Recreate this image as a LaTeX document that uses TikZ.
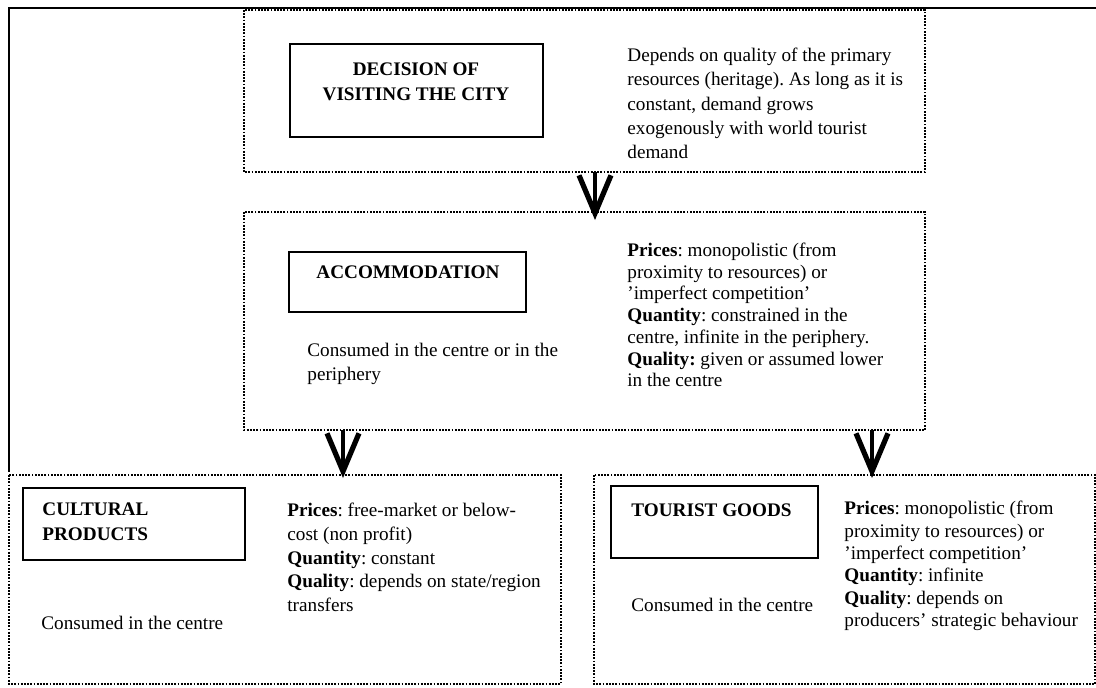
\documentclass[tikz,border=0pt]{standalone}
\usepackage{fontspec}
\setmainfont{Liberation Serif}
\usetikzlibrary{arrows.meta}
\frenchspacing

\begin{document}
\begin{tikzpicture}[x=0.5pt,y=-0.5pt,line cap=butt,line join=miter,
  panel/.style={line width=0.9pt,dash pattern=on 0.9pt off 0.7pt},
  titlebox/.style={line width=0.9pt},
  titletext/.style={font=\fontsize{9.6}{12.5}\selectfont\bfseries,inner sep=0pt},
  bodytext/.style={font=\fontsize{9.6}{#1}\selectfont,align=left,anchor=west,inner sep=0pt},
  bodytext/.default=12pt,
  flow/.style={line width=2.4pt,-{Straight Barb[length=19pt,width=16pt,line width=2.6pt]}}]
  \useasboundingbox (0,0) rectangle (1096,687);

  %--- Outer frame ---------------------------------------------------------
  \draw[line width=1.2pt] (9,472) -- (9,8) -- (1096,8);

  %--- Decision of visiting the city ---------------------------------------
  \draw[panel] (244,10) rectangle (925,172);
  \draw[titlebox] (290,44) rectangle (543,137);
  \node[titletext,align=center] (decision) at (416,82) {DECISION OF\\VISITING THE CITY};
  \node[bodytext=12.1pt] (demand) at (627,103.5)
    {Depends on quality of the primary\\
     resources (heritage). As long as it is\\
     constant, demand grows\\
     exogenously with world tourist\\
     demand};

  %--- Accommodation --------------------------------------------------------
  \draw[panel] (244,212) rectangle (925,430);
  \draw[titlebox] (289,252) rectangle (526,312);
  \node[titletext] (accom) at (408,272) {ACCOMMODATION};
  \node[bodytext] (accomuse) at (307,364)
    {Consumed in the centre or in the\\periphery};
  \node[bodytext=10.85pt] (accomrule) at (627,315)
    {\textbf{Prices}: monopolistic (from\\
     proximity to resources) or\\
     'imperfect competition'\\
     \textbf{Quantity}: constrained in the\\
     centre, infinite in the periphery.\\
     \textbf{Quality:} given or assumed lower\\
     in the centre};

  %--- Cultural products ----------------------------------------------------
  \draw[panel] (9,475) rectangle (561,684);
  \draw[titlebox] (23,488) rectangle (245,560);
  \node[titletext,align=left,anchor=west] (culture) at (42,522) {CULTURAL\\PRODUCTS};
  \node[bodytext] (cultureuse) at (41,623) {Consumed in the centre};
  \node[bodytext=11.8pt] (culturerule) at (287,557.5)
    {\textbf{Prices}: free-market or below-\\
     cost (non profit)\\
     \textbf{Quantity}: constant\\
     \textbf{Quality}: depends on state/region\\
     transfers};

  %--- Tourist goods --------------------------------------------------------
  \draw[panel] (594,475) rectangle (1095,684);
  \draw[titlebox] (611,486) rectangle (818,558);
  \node[titletext,anchor=west] (goods) at (631,510) {TOURIST GOODS};
  \node[bodytext] (goodsuse) at (631,605) {Consumed in the centre};
  \node[bodytext=11.2pt] (goodsrule) at (844,566)
    {\textbf{Prices}: monopolistic (from\\
     proximity to resources) or\\
     'imperfect competition'\\
     \textbf{Quantity}: infinite\\
     \textbf{Quality}: depends on\\
     producers' strategic behaviour};

  %--- Flow arrows ----------------------------------------------------------
  \coordinate (a1s) at (595,172);
  \coordinate (a1e) at (595,220);
  \coordinate (a2s) at (343,430);
  \coordinate (a2e) at (343,478);
  \coordinate (a3s) at (872,430);
  \coordinate (a3e) at (872,478);
  \draw[flow] (a1s) -- (a1e);
  \draw[flow] (a2s) -- (a2e);
  \draw[flow] (a3s) -- (a3e);
\end{tikzpicture}
\end{document}
